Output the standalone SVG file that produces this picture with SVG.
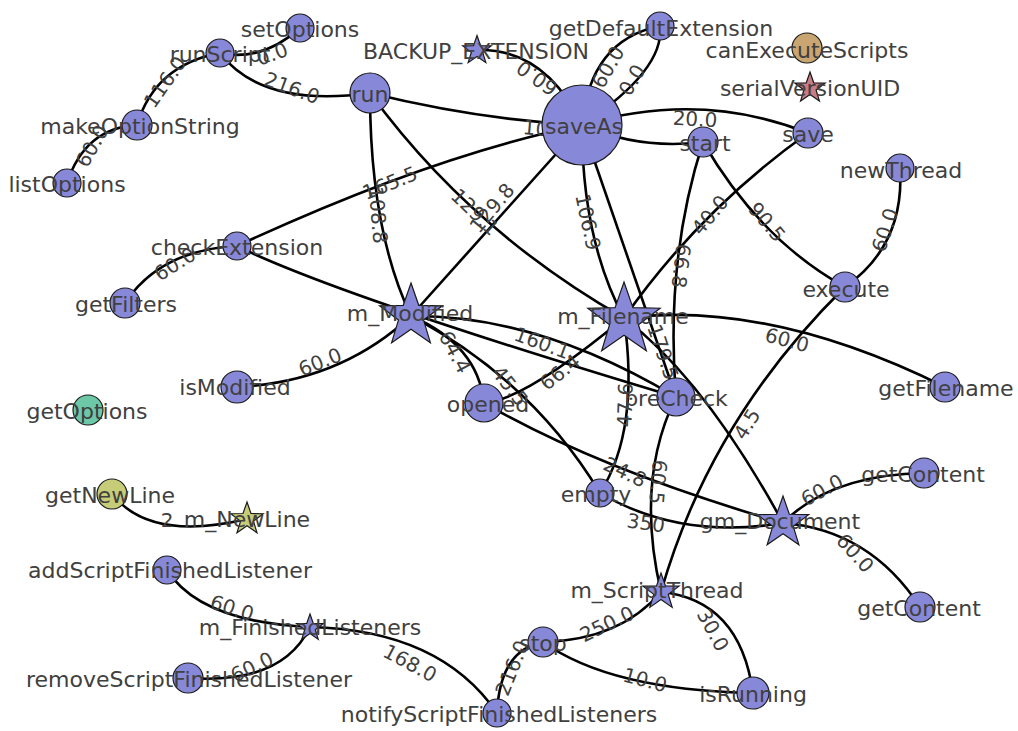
<svg xmlns="http://www.w3.org/2000/svg" xmlns:xlink="http://www.w3.org/1999/xlink" width="1018" height="731" viewBox="0 0 1018 731">
  <style>
    .e { fill: none; stroke: #000; stroke-width: 2.6; }
    .el { font-family: "DejaVu Sans", "Liberation Sans", sans-serif; font-size: 20px; fill: #404040; text-anchor: middle; }
    .v { fill: #8888d8; stroke: #1a1a1a; stroke-width: 1.2; }
    .tan { fill: #c9a572; }
    .pink { fill: #c87c86; }
    .teal { fill: #6cc8a6; }
    .lime { fill: #c6cc78; }
    .vl { font-family: "DejaVu Sans", "Liberation Sans", sans-serif; font-size: 22px; fill: #404040; text-anchor: middle; }
  </style>
  <defs>
    <!-- unit five-pointed star, scaled per vertex -->
    <path id="star" vector-effect="non-scaling-stroke" d="M0,-1 L0.235,-0.324 L0.951,-0.309 L0.380,0.124 L0.588,0.809 L0,0.4 L-0.588,0.809 L-0.380,0.124 L-0.951,-0.309 L-0.235,-0.324 Z"/>
  </defs>
  <rect width="1018" height="731" fill="#fff"/>

  <g id="connectors">
    <path class="e" d="M220,53 Q262,62 300,28"/>
    <path class="e" d="M137,125 Q155,65 220,53"/>
    <path class="e" d="M67,183 Q85,128 137,125"/>
    <path class="e" d="M220,53 Q262,108 370,93"/>
    <path class="e" d="M370,93 Q480,120 582,125"/>
    <path class="e" d="M370,93 Q370,230 411,316"/>
    <path class="e" d="M370,93 Q470,230 624,318"/>
    <path class="e" d="M477,50 Q545,48 582,125"/>
    <path class="e" d="M582,125 Q590,40 660,26"/>
    <path class="e" d="M582,125 Q665,70 660,26"/>
    <path class="e" d="M582,125 Q700,90 808,133"/>
    <path class="e" d="M582,125 Q640,150 703,142"/>
    <path class="e" d="M237,246 Q433,155 582,125"/>
    <path class="e" d="M582,125 L411,316"/>
    <path class="e" d="M582,125 Q582,240 624,318"/>
    <path class="e" d="M582,125 L676,397"/>
    <path class="e" d="M703,142 Q665,260 676,397"/>
    <path class="e" d="M808,133 Q700,210 624,318"/>
    <path class="e" d="M703,142 Q760,240 845,287"/>
    <path class="e" d="M900,168 Q905,245 845,287"/>
    <path class="e" d="M845,287 Q710,420 661,592"/>
    <path class="e" d="M624,318 Q770,300 945,387"/>
    <path class="e" d="M484,403 Q525,400 624,318"/>
    <path class="e" d="M237,246 Q339,296 676,397"/>
    <path class="e" d="M411,316 Q539,315 676,397"/>
    <path class="e" d="M125,303 Q160,250 237,246"/>
    <path class="e" d="M237,387 Q340,382 411,316"/>
    <path class="e" d="M411,316 Q478,345 484,403"/>
    <path class="e" d="M411,316 Q532,380 600,493"/>
    <path class="e" d="M624,318 Q640,430 600,493"/>
    <path class="e" d="M624,318 Q705,380 783,523"/>
    <path class="e" d="M676,397 Q635,480 661,592"/>
    <path class="e" d="M484,403 Q600,470 783,523"/>
    <path class="e" d="M600,493 Q680,540 783,523"/>
    <path class="e" d="M783,523 Q830,475 924,473"/>
    <path class="e" d="M783,523 Q870,530 920,607"/>
    <path class="e" d="M661,592 Q740,600 753,693"/>
    <path class="e" d="M543,642 Q620,640 661,592"/>
    <path class="e" d="M543,642 Q610,690 753,693"/>
    <path class="e" d="M497,713 Q500,650 543,642"/>
    <path class="e" d="M310,627 Q440,630 497,713"/>
    <path class="e" d="M167,570 Q200,622 310,627"/>
    <path class="e" d="M188,678 Q282,685 310,627"/>
    <path class="e" d="M112,494 Q150,542 247,519"/>

    <!-- edge weights -->
    <text class="el" transform="translate(272,54) rotate(-20)" y="7">0.0</text>
    <text class="el" transform="translate(165,82) rotate(-55)" y="7">116.0</text>
    <text class="el" transform="translate(92,146) rotate(-60)" y="7">60.0</text>
    <text class="el" transform="translate(292,88) rotate(20)" y="7">216.0</text>
    <text class="el" transform="translate(545,129) rotate(5)" y="7">10.0</text>
    <text class="el" transform="translate(537,78) rotate(215)" y="7">60.0</text>
    <text class="el" transform="translate(608,67) rotate(-60)" y="7">60.0</text>
    <text class="el" transform="translate(632,80) rotate(-60)" y="7">0.0</text>
    <text class="el" transform="translate(695,119) rotate(3)" y="7">20.0</text>
    <text class="el" transform="translate(390,183) rotate(-22)" y="7">165.5</text>
    <text class="el" transform="translate(378,215) rotate(85)" y="7">108.8</text>
    <text class="el" transform="translate(492,208) rotate(-50)" y="7">129.8</text>
    <text class="el" transform="translate(475,212) rotate(44)" y="7">129.1</text>
    <text class="el" transform="translate(588,222) rotate(78)" y="7">106.9</text>
    <text class="el" transform="translate(681,266) rotate(97)" y="7">66.8</text>
    <text class="el" transform="translate(710,215) rotate(-50)" y="7">40.0</text>
    <text class="el" transform="translate(767,222) rotate(50)" y="7">90.5</text>
    <text class="el" transform="translate(885,230) rotate(-72)" y="7">60.0</text>
    <text class="el" transform="translate(747,424) rotate(-58)" y="7">4.5</text>
    <text class="el" transform="translate(787,340) rotate(15)" y="7">60.0</text>
    <text class="el" transform="translate(560,372) rotate(-38)" y="7">66.4</text>
    <text class="el" transform="translate(542,343) rotate(20)" y="7">160.1</text>
    <text class="el" transform="translate(663,352) rotate(71)" y="7">179.5</text>
    <text class="el" transform="translate(625,405) rotate(-88)" y="7">47.6</text>
    <text class="el" transform="translate(625,472) rotate(25)" y="7">24.8</text>
    <text class="el" transform="translate(658,482) rotate(95)" y="7">60.5</text>
    <text class="el" transform="translate(455,352) rotate(62)" y="7">64.4</text>
    <text class="el" transform="translate(510,386) rotate(52)" y="7">45.5</text>
    <text class="el" transform="translate(646,523) rotate(8)" y="7">350</text>
    <text class="el" transform="translate(822,490) rotate(-28)" y="7">60.0</text>
    <text class="el" transform="translate(855,553) rotate(48)" y="7">60.0</text>
    <text class="el" transform="translate(713,630) rotate(62)" y="7">30.0</text>
    <text class="el" transform="translate(607,624) rotate(-25)" y="7">250.0</text>
    <text class="el" transform="translate(645,680) rotate(15)" y="7">10.0</text>
    <text class="el" transform="translate(512,668) rotate(-68)" y="7">216.0</text>
    <text class="el" transform="translate(410,663) rotate(28)" y="7">168.0</text>
    <text class="el" transform="translate(232,608) rotate(18)" y="7">60.0</text>
    <text class="el" transform="translate(252,667) rotate(-25)" y="7">60.0</text>
    <text class="el" transform="translate(175,264) rotate(-32)" y="7">60.0</text>
    <text class="el" transform="translate(320,362) rotate(-22)" y="7">60.0</text>
    <text class="el" x="167" y="527">2</text>
  </g>

  <g id="setOptions"><circle class="v" cx="300" cy="28" r="14"/><text class="vl" x="300" y="37">setOptions</text></g>
  <g id="runScript"><circle class="v" cx="220" cy="53" r="14"/><text class="vl" x="220" y="62">runScript</text></g>
  <g id="makeOptionString"><circle class="v" cx="137" cy="125" r="15"/><text class="vl" x="140" y="134">makeOptionString</text></g>
  <g id="listOptions"><circle class="v" cx="67" cy="183" r="14"/><text class="vl" x="67" y="192">listOptions</text></g>
  <g id="run"><circle class="v" cx="370" cy="93" r="20"/><text class="vl" x="370" y="102">run</text></g>
  <g id="BACKUP_EXTENSION"><use href="#star" class="v" transform="translate(477,50.5) scale(15)"/><text class="vl" x="476" y="59">BACKUP_EXTENSION</text></g>
  <g id="saveAs"><circle class="v" cx="582" cy="125" r="40"/><text class="vl" x="584" y="134">saveAs</text></g>
  <g id="getDefaultExtension"><circle class="v" cx="660" cy="26" r="14"/><text class="vl" x="661" y="36">getDefaultExtension</text></g>
  <g id="canExecuteScripts"><circle class="v tan" cx="807" cy="48" r="15"/><text class="vl" x="807" y="58">canExecuteScripts</text></g>
  <g id="serialVersionUID"><use href="#star" class="v pink" transform="translate(810,88) scale(16)"/><text class="vl" x="810" y="96">serialVersionUID</text></g>
  <g id="start"><circle class="v" cx="703" cy="142" r="15"/><text class="vl" x="705" y="151">start</text></g>
  <g id="save"><circle class="v" cx="808" cy="133" r="15"/><text class="vl" x="808" y="142">save</text></g>
  <g id="newThread"><circle class="v" cx="900" cy="168" r="14"/><text class="vl" x="901" y="178">newThread</text></g>
  <g id="checkExtension"><circle class="v" cx="237" cy="246" r="14"/><text class="vl" x="237" y="255">checkExtension</text></g>
  <g id="getFilters"><circle class="v" cx="125" cy="303" r="15"/><text class="vl" x="126" y="312">getFilters</text></g>
  <g id="m_Modified"><use href="#star" class="v" transform="translate(411,316) scale(33)"/><text class="vl" x="410" y="321">m_Modified</text></g>
  <g id="m_Filename"><use href="#star" class="v" transform="translate(624,320) scale(38)"/><text class="vl" x="623" y="324">m_Filename</text></g>
  <g id="execute"><circle class="v" cx="845" cy="287" r="15"/><text class="vl" x="846" y="297">execute</text></g>
  <g id="getFilename"><circle class="v" cx="945" cy="387" r="15"/><text class="vl" x="946" y="396">getFilename</text></g>
  <g id="isModified"><circle class="v" cx="237" cy="387" r="16"/><text class="vl" x="235" y="395">isModified</text></g>
  <g id="getOptions"><circle class="v teal" cx="88" cy="410" r="15"/><text class="vl" x="87" y="419">getOptions</text></g>
  <g id="opened"><circle class="v" cx="484" cy="403" r="19"/><text class="vl" x="488" y="412">opened</text></g>
  <g id="preCheck"><circle class="v" cx="676" cy="397" r="19"/><text class="vl" x="676" y="406">preCheck</text></g>
  <g id="empty"><circle class="v" cx="600" cy="493" r="14"/><text class="vl" x="596" y="502">empty</text></g>
  <g id="gm_Document"><use href="#star" class="v" transform="translate(783,523) scale(27)"/><text class="vl" x="780" y="529">gm_Document</text></g>
  <g id="getContent-1"><circle class="v" cx="924" cy="473" r="15"/><text class="vl" x="923" y="482">getContent</text></g>
  <g id="getContent-2"><circle class="v" cx="920" cy="607" r="15"/><text class="vl" x="919" y="616">getContent</text></g>
  <g id="getNewLine"><circle class="v lime" cx="112" cy="494" r="15"/><text class="vl" x="110" y="503">getNewLine</text></g>
  <g id="m_NewLine"><use href="#star" class="v lime" transform="translate(247,519) scale(17)"/><text class="vl" x="247" y="527">m_NewLine</text></g>
  <g id="addScriptFinishedListener"><circle class="v" cx="167" cy="570" r="14"/><text class="vl" x="170" y="578">addScriptFinishedListener</text></g>
  <g id="m_FinishedListeners"><use href="#star" class="v" transform="translate(310,628) scale(14)"/><text class="vl" x="310" y="635">m_FinishedListeners</text></g>
  <g id="removeScriptFinishedListener"><circle class="v" cx="188" cy="678" r="15"/><text class="vl" x="189" y="687">removeScriptFinishedListener</text></g>
  <g id="m_ScriptThread"><use href="#star" class="v" transform="translate(661,592) scale(19)"/><text class="vl" x="657" y="598">m_ScriptThread</text></g>
  <g id="stop"><circle class="v" cx="543" cy="642" r="15"/><text class="vl" x="543" y="651">stop</text></g>
  <g id="isRunning"><circle class="v" cx="753" cy="693" r="16"/><text class="vl" x="753" y="702">isRunning</text></g>
  <g id="notifyScriptFinishedListeners"><circle class="v" cx="497" cy="713" r="14"/><text class="vl" x="499" y="722">notifyScriptFinishedListeners</text></g>
</svg>
